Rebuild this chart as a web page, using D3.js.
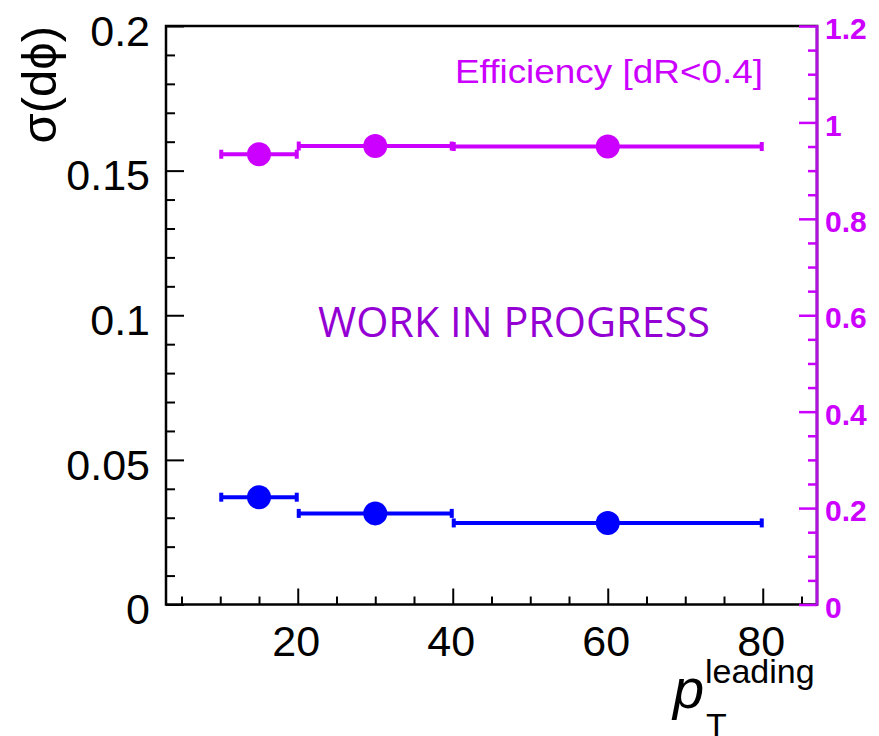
<!DOCTYPE html>
<html>
<head>
<meta charset="utf-8">
<script src="https://cdn.jsdelivr.net/npm/d3@7"></script>
<style>
  body { margin: 0; background: #fff; }
  text { font-family: "Liberation Sans", Arial, Helvetica, sans-serif; }
</style>
</head>
<body>
<script>
	// bins in pT leading
	var binLo = [10, 20, 40];
	var binHi = [20, 40, 80];
	var binCenter = [15, 30, 60];
	// left axis: sigma(dphi), right axis: efficiency
	var sigmaDphi = [0.0371, 0.0315, 0.0282];
	var efficiency = [0.934, 0.951, 0.950];

	var xMajor = [20, 40, 60, 80];
	var xMinor = [5, 10, 15, 25, 30, 35, 45, 50, 55, 65, 70, 75, 85];
	var yLeftMajor = [0, 0.05, 0.1, 0.15, 0.2];
	var yRightMajor = [0, 0.2, 0.4, 0.6, 0.8, 1, 1.2];

	var W = 879, H = 736;
	var frameL = 166, frameR = 817, frameT = 26, frameB = 604.5;
	var magenta = "#cc00ff";

	var svg = d3.select("body").append("svg")
		.attr("width", W)
		.attr("height", H);

	svg.append("rect").attr("width", W).attr("height", H).attr("fill", "#fff");

	var x = d3.scaleLinear().domain([3, 87]).range([frameL, frameR]);
	var yL = d3.scaleLinear().domain([0, 0.2]).range([frameB, frameT]);
	var yR = d3.scaleLinear().domain([0, 1.2]).range([frameB, frameT]);

	// minor ticks from 0.01 / 0.05 steps
	var yLeftMinor = d3.range(0, 21).map(function(d){ return d / 100; })
		.filter(function(d){ return Math.round(d * 100) % 5 != 0; });
	var yRightMinor = d3.range(0, 25).map(function(d){ return d / 20; })
		.filter(function(d){ return Math.round(d * 20) % 4 != 0; });

	// frame
	svg.append("rect")
		.attr("x", frameL).attr("y", frameT)
		.attr("width", frameR - frameL).attr("height", frameB - frameT)
		.attr("fill", "none").attr("stroke", "black").attr("stroke-width", 2.5);

	var fmt = function(d){ return d3.format("~g")(d); };

	// x axis
	var gx = svg.append("g").attr("transform", "translate(0," + frameB + ")")
		.call(d3.axisBottom(x).tickValues(xMajor).tickSize(-16).tickPadding(21).tickFormat(fmt));
	gx.append("g")
		.call(d3.axisBottom(x).tickValues(xMinor).tickSize(-8).tickFormat(""));
	gx.selectAll(".domain").remove();
	gx.selectAll("line").attr("stroke", "black").attr("stroke-width", 2);
	gx.selectAll("text")
		.attr("font-size", 43)
		.attr("fill", "black")
		.attr("dx", -2)
		.attr("font-family", "Liberation Sans, Arial, sans-serif");

	// left axis
	var gy = svg.append("g").attr("transform", "translate(" + frameL + ",0)")
		.call(d3.axisLeft(yL).tickValues(yLeftMajor).tickSize(-18).tickPadding(16).tickFormat(fmt));
	gy.append("g")
		.call(d3.axisLeft(yL).tickValues(yLeftMinor).tickSize(-9).tickFormat(""));
	gy.selectAll(".domain").remove();
	gy.selectAll("line").attr("stroke", "black").attr("stroke-width", 2);
	gy.selectAll("text")
		.attr("font-size", 43)
		.attr("fill", "black")
		.attr("dy", "0.45em")
		.attr("font-family", "Liberation Sans, Arial, sans-serif");

	// right axis (efficiency)
	var gr = svg.append("g").attr("transform", "translate(" + frameR + ",0)")
		.call(d3.axisRight(yR).tickValues(yRightMajor).tickSize(-18).tickPadding(8).tickFormat(fmt));
	gr.append("g")
		.call(d3.axisRight(yR).tickValues(yRightMinor).tickSize(-9).tickFormat(""));
	gr.selectAll(".domain").remove();
	gr.selectAll("line").attr("stroke", magenta).attr("stroke-width", 2.5);
	gr.append("line")
		.attr("x1", 0).attr("x2", 0).attr("y1", frameT - 1).attr("y2", frameB + 1)
		.attr("stroke", "#b010e0").attr("stroke-width", 3);
	gr.selectAll("text")
		.attr("font-size", 30)
		.attr("font-weight", "bold")
		.attr("fill", magenta)
		.attr("dy", "0.42em")
		.attr("font-family", "Liberation Sans, Arial, sans-serif");

	// points with horizontal bin errors
	var drawSeries = function(vals, yScale, color){
		for(var i = 0; i < vals.length; i++){
			var yy = yScale(vals[i]);
			svg.append("line")
				.attr("x1", x(binLo[i])).attr("x2", x(binHi[i]))
				.attr("y1", yy).attr("y2", yy)
				.attr("stroke", color).attr("stroke-width", 4);
			svg.append("rect")
				.attr("x", x(binLo[i]) - 1).attr("y", yy - 4.5)
				.attr("width", 4).attr("height", 9).attr("fill", color);
			svg.append("rect")
				.attr("x", x(binHi[i]) - 3).attr("y", yy - 4.5)
				.attr("width", 4).attr("height", 9).attr("fill", color);
			svg.append("circle")
				.attr("cx", x(binCenter[i])).attr("cy", yy)
				.attr("r", 12).attr("fill", color);
		}
	};
	drawSeries(sigmaDphi, yL, "#0000ff");
	drawSeries(efficiency, yR, magenta);

	// labels
	svg.append("text")
		.attr("x", 455).attr("y", 83)
		.attr("font-size", 34)
		.attr("fill", magenta)
		.attr("textLength", 308).attr("lengthAdjust", "spacingAndGlyphs")
		.text("Efficiency [dR<0.4]");

	svg.append("text")
		.attr("x", 318).attr("y", 337)
		.attr("font-size", 42)
		.attr("fill", "#9400d3")
		.style("font-family", "'Open Sans', Lato, sans-serif")
		.attr("textLength", 392).attr("lengthAdjust", "spacingAndGlyphs")
		.text("WORK IN PROGRESS");

	// y title
	svg.append("text")
		.attr("transform", "translate(56," + frameT + ") rotate(-90)")
		.attr("text-anchor", "end")
		.attr("font-size", 49)
		.attr("fill", "black")
		.text("σ(dϕ)");

	// x title
	svg.append("text")
		.attr("x", 673).attr("y", 708)
		.attr("font-size", 56).attr("font-style", "italic")
		.attr("fill", "black")
		.text("p");
	svg.append("text")
		.attr("x", 705).attr("y", 683)
		.attr("font-size", 34)
		.attr("fill", "black")
		.text("leading");
	svg.append("text")
		.attr("x", 706).attr("y", 737)
		.attr("font-size", 34)
		.attr("fill", "black")
		.text("T");
</script>
</body>
</html>
